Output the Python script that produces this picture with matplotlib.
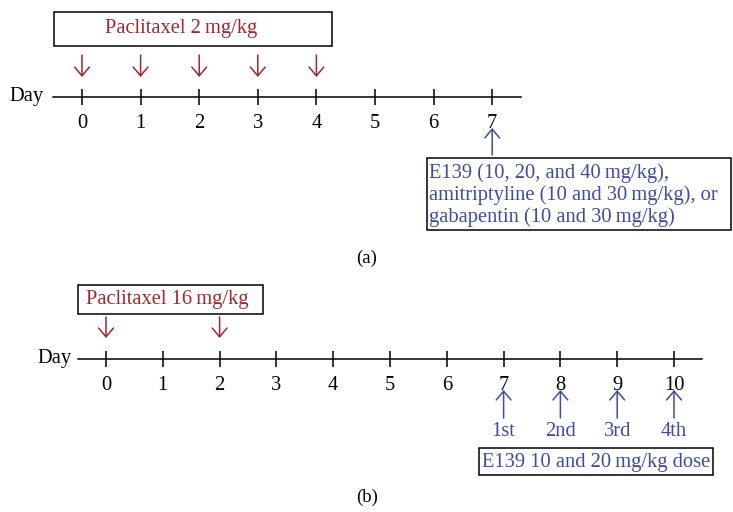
import matplotlib.pyplot as plt
from matplotlib.patches import Rectangle

plt.rcParams['font.family'] = ['Liberation Serif', 'DejaVu Serif']

RED = '#a3262e'
BLUE = '#3d4ca0'
FS = 14.8

# panel (a)
days_a = [0, 1, 2, 3, 4, 5, 6, 7]
pac_days_a = [0, 1, 2, 3, 4]
drug_day_a = 7
pac_label_a = 'Paclitaxel 2\u2009mg/kg'
drug_label_a = ('E139 (10, 20, and 40\u2009mg/kg),\n'
                'amitriptyline (10 and 30\u2009mg/kg), or\n'
                'gabapentin (10 and 30\u2009mg/kg)')

# panel (b)
days_b = [0, 1, 2, 3, 4, 5, 6, 7, 8, 9, 10]
pac_days_b = [0, 2]
drug_days_b = [7, 8, 9, 10]
dose_labels_b = ['1st', '2nd', '3rd', '4th']
pac_label_b = 'Paclitaxel 16\u2009mg/kg'
drug_label_b = 'E139 10 and 20\u2009mg/kg dose'

W, H = 733, 512
fig = plt.figure(figsize=(W / 100, H / 100), dpi=100)


def make_axes(x0_px, px_per_day):
    ax = fig.add_axes([0, 0, 1, 1])
    ax.set_xlim(-x0_px / px_per_day, (W - x0_px) / px_per_day)
    ax.set_ylim(H, 0)
    ax.axis('off')
    return ax


def arrow(ax, x, y_from, y_to, color):
    ax.annotate('', xy=(x, y_to), xytext=(x, y_from),
                arrowprops=dict(arrowstyle='->, head_length=0.45, head_width=0.38',
                                color=color, lw=1.1, shrinkA=0, shrinkB=0,
                                mutation_scale=14))


def timeline(ax, days, y, day_gap):
    ax.plot([days[0] - 0.49, days[-1] + 0.49], [y, y], color='black', lw=1.1)
    ax.vlines(days, y - 8, y + 8, color='black', lw=1.1)
    for d in days:
        ax.text(d, y + 26, str(d), ha='center', va='center', fontsize=FS)
    ax.text(days[0] - day_gap, y, 'Day', ha='right', va='center', fontsize=FS)


# ---- (a)
ax = make_axes(82, 58.6)
ya = 97
timeline(ax, days_a, ya, 0.65)
ax.add_patch(Rectangle((-0.478, 12), 4.75, 34, fill=False, ec='black', lw=1.1))
ax.text(0.39, 29, pac_label_a, color=RED, ha='left', va='center', fontsize=FS)
for d in pac_days_a:
    arrow(ax, d, 55, 77, RED)
arrow(ax, drug_day_a, 155, 128, BLUE)
ax.add_patch(Rectangle((5.89, 158), 5.18, 72, fill=False, ec='black', lw=1.1))
ax.text(5.92, 195, drug_label_a, color=BLUE, ha='left', va='center', fontsize=FS,
        linespacing=1.13)
ax.text(4.86, 258, '(a)', ha='center', va='center', fontsize=13.5)

# ---- (b)
ax = make_axes(106, 56.8)
yb = 359
timeline(ax, days_b, yb, 0.6)
ax.add_patch(Rectangle((-0.49, 285), 3.26, 29, fill=False, ec='black', lw=1.1))
ax.text(-0.35, 299.5, pac_label_b, color=RED, ha='left', va='center', fontsize=FS)
for d in pac_days_b:
    arrow(ax, d, 317, 338, RED)
for d, lab in zip(drug_days_b, dose_labels_b):
    arrow(ax, d, 418, 390, BLUE)
    ax.text(d, 432, lab, color=BLUE, ha='center', va='center', fontsize=FS)
ax.add_patch(Rectangle((6.57, 448), 4.12, 27, fill=False, ec='black', lw=1.1))
ax.text((6.57 + 10.69) / 2, 462, drug_label_b, color=BLUE, ha='center', va='center',
        fontsize=FS)
ax.text(4.59, 497, '(b)', ha='center', va='center', fontsize=13.5)

fig.savefig('out.png', dpi=100)
